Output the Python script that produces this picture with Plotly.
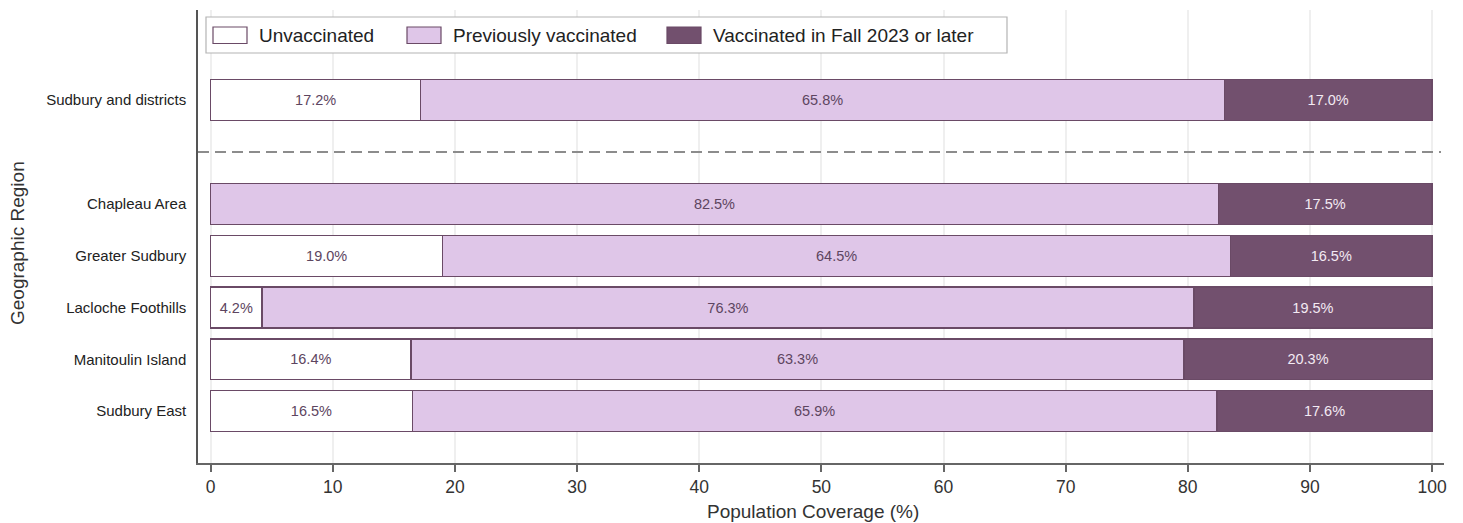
import plotly.graph_objects as go

regions = ["Sudbury and districts", "Chapleau Area", "Greater Sudbury",
           "Lacloche Foothills", "Manitoulin Island", "Sudbury East"]
unvaccinated = [17.2, 0.0, 19.0, 4.2, 16.4, 16.5]
previously = [65.8, 82.5, 64.5, 76.3, 63.3, 65.9]
fall2023 = [17.0, 17.5, 16.5, 19.5, 20.3, 17.6]
series_names = ["Unvaccinated", "Previously vaccinated", "Vaccinated in Fall 2023 or later"]
x_ticks = [0, 10, 20, 30, 40, 50, 60, 70, 80, 90, 100]

# layout positions: overall region on top, separated by a gap
n = len(regions)
ypos = [n] + list(range(n - 2, -1, -1))  # 6,4,3,2,1,0

fills = ["#ffffff", "#dfc6e8", "#72506e"]
txtcols = ["#5d4560", "#5d4560", "#f3eaf3"]
border = "#6a4a66"
FONT = "Liberation Sans, Arial, sans-serif"

W, H = 1463, 523
L, R, T, B = 198, 19, 10, 60
pw, ph = W - L - R, H - T - B

fig = go.Figure()
for name, vals, fc, tc in zip(series_names, [unvaccinated, previously, fall2023], fills, txtcols):
    fig.add_trace(go.Bar(
        y=ypos, x=vals, orientation="h", name=name,
        marker=dict(color=fc, line=dict(color=border, width=1.3)),
        width=0.79,
        text=[f"{v:.1f}%" if v > 0 else "" for v in vals],
        textposition="inside", insidetextanchor="middle",
        constraintext="none",
        textfont=dict(family=FONT, size=14.5, color=tc),
        showlegend=False,
    ))

def px_x(px):
    return (px - L) / pw

def px_y(py):
    return (H - B - py) / ph

shapes = []
annotations = []
# dashed separator
shapes.append(dict(type="line", xref="paper", yref="y", x0=0, x1=px_x(1441), y0=n - 1, y1=n - 1,
                   line=dict(color="#8c8c8c", width=2, dash="11px,6px")))
# legend box
shapes.append(dict(type="rect", xref="paper", yref="paper", x0=px_x(206), x1=px_x(1007),
                   y0=px_y(53), y1=px_y(17), line=dict(color="#b4b4b4", width=1.2),
                   fillcolor="white", layer="above"))
leg_x = [213, 407, 667]
for lx, name, fc in zip(leg_x, series_names, fills):
    shapes.append(dict(type="rect", xref="paper", yref="paper", x0=px_x(lx), x1=px_x(lx + 34),
                       y0=px_y(43.5), y1=px_y(27), fillcolor=fc,
                       line=dict(color=border, width=1.2), layer="above"))
    annotations.append(dict(xref="paper", yref="paper", x=px_x(lx + 44), y=px_y(35.5),
                            text=name, showarrow=False, xanchor="left", yanchor="middle",
                            font=dict(family=FONT, size=19, color="#222222")))
# y axis title
annotations.append(dict(xref="paper", yref="paper", x=px_x(18), y=px_y(243), text="Geographic Region",
                        textangle=-90, showarrow=False, xanchor="center", yanchor="middle",
                        font=dict(family=FONT, size=19, color="#333333")))
# x axis title
annotations.append(dict(xref="paper", yref="paper", x=px_x(813), y=px_y(512), text="Population Coverage (%)",
                        showarrow=False, xanchor="center", yanchor="middle",
                        font=dict(family=FONT, size=19, color="#333333")))

fig.update_layout(
    width=W, height=H,
    margin=dict(l=L, r=R, t=T, b=B),
    barmode="stack",
    plot_bgcolor="white", paper_bgcolor="white",
    shapes=shapes, annotations=annotations,
    font=dict(family=FONT),
    xaxis=dict(range=[-1.04, 100.98], tickvals=x_ticks, ticks="outside", ticklen=7,
               tickcolor="#666666", tickwidth=1.5,
               showgrid=True, gridcolor="#efefef", gridwidth=1.5, zeroline=False,
               showline=True, linecolor="#666666", linewidth=1.5,
               tickfont=dict(size=17.5, color="#333333")),
    yaxis=dict(range=[-1.0, 7.74], tickvals=ypos, ticktext=regions, ticks="outside", ticklen=7,
               tickcolor="rgba(0,0,0,0)", showgrid=False, zeroline=False,
               showline=True, linecolor="#555555", linewidth=1.5,
               tickfont=dict(size=15, color="#222222")),
)
fig.write_html("out.html", config={"displayModeBar": False},
               post_script="document.body.style.margin='0';")
